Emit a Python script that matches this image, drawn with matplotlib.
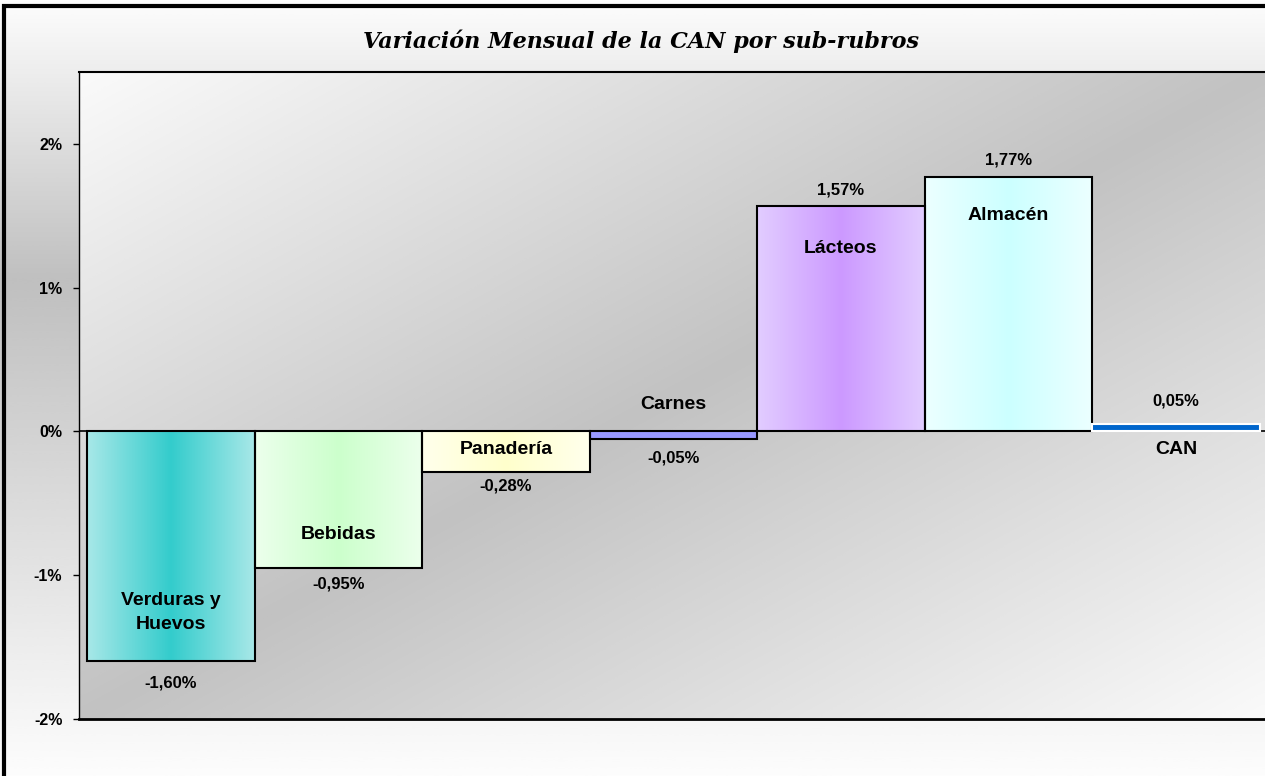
import matplotlib.pyplot as plt
import numpy as np
from matplotlib.colors import to_rgb
from matplotlib.patches import Rectangle

# data
categories = ['Verduras y\nHuevos', 'Bebidas', 'Panadería', 'Carnes', 'Lácteos', 'Almacén', 'CAN']
values = [-1.60, -0.95, -0.28, -0.05, 1.57, 1.77, 0.05]
value_labels = ['-1,60%', '-0,95%', '-0,28%', '-0,05%', '1,57%', '1,77%', '0,05%']
yticks = [-2, -1, 0, 1, 2]
ytick_labels = ['-2%', '-1%', '0%', '1%', '2%']
title = 'Variación Mensual de la CAN por sub-rubros'

# (edge colour, centre colour) of each bar's horizontal gradient
bar_colors = [('#a8e8e8', '#33cccc'),
              ('#ecffec', '#ccffcc'),
              ('#ffffec', '#ffffcc'),
              ('#9999ff', '#9999ff'),
              ('#e2cdff', '#cc99ff'),
              ('#ecffff', '#ccffff'),
              ('#0066cc', '#0066cc')]

# where the category names / value labels sit (data units)
name_y = [-1.26, -0.72, -0.125, 0.19, 1.27, 1.50, -0.125]
label_y = [-1.75, -1.06, -0.376, -0.188, 1.68, 1.89, 0.21]

W, H = 1265, 776
fig = plt.figure(figsize=(W / 100, H / 100), dpi=100)

# outer chart area: vertical white -> gray -> white gradient
bg = fig.add_axes([0, 0, 1, 1], zorder=-5)
t = np.linspace(0, 1, 400)  # top to bottom
peak = 0.36
s = np.where(t < peak, t / peak, (1 - t) / (1 - peak))
g = 0.99 - (0.99 - 0.75) * s
bg.imshow(np.repeat(g[:, None], 2, axis=1), cmap='gray', vmin=0, vmax=1,
          extent=[0, 1, 0, 1], aspect='auto', interpolation='bicubic')
bg.set_axis_off()

# black frame (only left and top visible)
fig.patches.append(Rectangle((4 / W, -0.2), 1.3, 1.2 - 6 / H, transform=fig.transFigure,
                             fill=False, edgecolor='black', linewidth=3, zorder=10))

ax = fig.add_axes([79 / W, 57 / H, (1268 - 79) / W, 647 / H], zorder=1)
ax.patch.set_alpha(0)

# plot area: diagonal gradient, white corners top-left and bottom-right
u = np.linspace(0, 1, 300)
v = np.linspace(1, 0, 300)
U, V = np.meshgrid(u, v)
d = (U + (1 - V)) / 2
s2 = 1 - np.abs(2 * d - 1)
g2 = 0.98 - (0.98 - 0.76) * s2
ax.imshow(g2, cmap='gray', vmin=0, vmax=1, extent=[0, 1, 0, 1], transform=ax.transAxes,
          aspect='auto', interpolation='bicubic', zorder=0)

x = np.arange(len(values))
ax.axhline(0, color='black', linewidth=1.2, zorder=1.5)
bars = ax.bar(x, values, width=1.0, facecolor='none', edgecolor='black', linewidth=1.5, zorder=3)

for i, (b, val) in enumerate(zip(bars, values)):
    edge, centre = to_rgb(bar_colors[i][0]), to_rgb(bar_colors[i][1])
    w = np.linspace(0, 1, 200)
    k = 1 - np.abs(2 * w - 1)
    grad = np.array(edge)[None, :] * (1 - k[:, None]) + np.array(centre)[None, :] * k[:, None]
    im = ax.imshow(grad[None, :, :], extent=[i - 0.5, i + 0.5, min(0, val), max(0, val)],
                   aspect='auto', interpolation='bilinear', zorder=2)
    im.set_clip_path(b)
bars[-1].set_edgecolor('white')

for i in range(len(values)):
    ax.text(x[i], name_y[i], categories[i], ha='center', va='center', fontsize=14,
            fontweight='bold', family='Liberation Sans', zorder=5, linespacing=1.5)
    ax.text(x[i], label_y[i], value_labels[i], ha='center', va='center', fontsize=12,
            fontweight='bold', family='Liberation Sans', zorder=5)

ax.set_xlim(-0.55, 6.55)
ax.set_ylim(-2, 2.5)
ax.set_yticks(yticks)
ax.set_yticklabels(ytick_labels, fontsize=11.5, fontweight='bold', family='Liberation Sans')
ax.tick_params(axis='y', direction='out', length=4, width=1, pad=8)
ax.set_xticks([])
ax.spines['right'].set_visible(False)
ax.spines['top'].set_linewidth(1.5)
ax.spines['bottom'].set_linewidth(2)
ax.spines['left'].set_linewidth(1)

fig.text(641 / W, 1 - 41 / H, title, ha='center', va='center', fontsize=16,
         fontweight='bold', fontstyle='italic', family='DejaVu Serif')

plt.savefig('out.png', dpi=100)
